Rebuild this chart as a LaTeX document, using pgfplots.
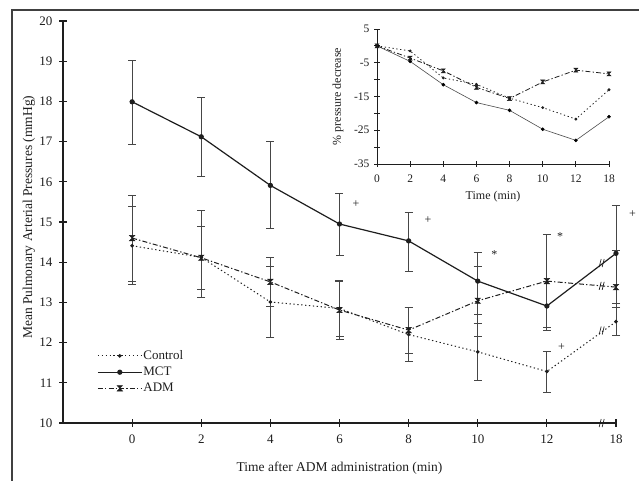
\documentclass[border=0pt]{standalone}
\usepackage{fontspec}
\setmainfont{Liberation Serif}
\usepackage{pgfplots}
\pgfplotsset{compat=1.18}

% hourglass mark used for the ADM series
\pgfdeclareplotmark{hglass}{%
  \pgfpathmoveto{\pgfqpoint{-\pgfplotmarksize}{\pgfplotmarksize}}%
  \pgfpathlineto{\pgfqpoint{\pgfplotmarksize}{\pgfplotmarksize}}%
  \pgfpathlineto{\pgfqpoint{-\pgfplotmarksize}{-\pgfplotmarksize}}%
  \pgfpathlineto{\pgfqpoint{\pgfplotmarksize}{-\pgfplotmarksize}}%
  \pgfpathclose
  \pgfusepathqfillstroke}

\definecolor{ink}{RGB}{30,30,30}
\definecolor{errc}{RGB}{70,70,70}

\pgfplotsset{
  ctrl/.style={ink, line width=1pt, dash pattern=on 1.3pt off 2.6pt,
    mark=*, mark size=1.3pt, mark options={solid}},
  mct/.style={ink, line width=1.2pt, mark=*, mark size=2pt},
  adm/.style={ink, line width=1pt, dash pattern=on 5pt off 2.2pt on 1.3pt off 2.2pt,
    mark=hglass, mark size=2.7pt, mark options={solid, line width=0.5pt}},
  ebar/.style={error bars/.cd, y dir=both, y explicit,
    error bar style={errc, line width=0.9pt, solid},
    error mark options={rotate=90, mark size=4pt, errc, line width=0.9pt, solid}},
}

\begin{document}
\begin{tikzpicture}
\begin{axis}[
    name=main, at={(63pt,58pt)}, anchor=south west,
    scale only axis, width=553pt, height=402pt,
    xmin=-1, xmax=7, ymin=10, ymax=20,
    axis x line*=bottom, axis y line*=left,
    axis line style={line width=1.1pt, ink},
    xtick={0,...,7}, xticklabels={0,2,4,6,8,10,12,18},
    ytick={10,...,20}, yticklabels={10,11,12,13,14,15,16,17,18,19,20},
    tick align=center, major tick length=8pt,
    tick style={line width=1.1pt, ink},
    tick label style={font=\fontsize{13}{15}\selectfont, ink},
    xticklabel style={yshift=-4pt},
    yticklabel style={xshift=-3pt},
    xlabel={Time after ADM administration (min)},
    ylabel={Mean Pulmonary Arterial Pressures (mmHg)},
    label style={font=\fontsize{13.5}{16}\selectfont, ink},
    xlabel style={at={(axis description cs:0.5,-0.112)}, anchor=center},
    ylabel style={at={(axis description cs:-0.0615,0.512)}, anchor=center},
    clip=false,
    legend style={at={(axis description cs:0.0615,0.183)}, anchor=north west,
      draw=none, fill=none, inner sep=0pt, row sep=4pt,
      font=\fontsize{13}{15}\selectfont, text=ink,
      nodes={inner sep=1pt}},
    legend cell align=left,
    legend image code/.code={\draw[mark repeat=2,mark phase=2,#1]
      plot coordinates {(0pt,0pt) (22pt,0pt) (44pt,0pt)};},
]
\addplot[ctrl, ebar] coordinates {
  (0,14.41) += (0,0.97) -= (0,0.97)
  (1,14.12) += (0,0.76) -= (0,0.79)
  (2,13.01) += (0,0.88) -= (0,0.89)
  (3,12.85) += (0,0.70) -= (0,0.70)
  (4,12.20) += (0,0.68) -= (0,0.68)
  (5,11.77) += (0,0.71) -= (0,0.71)
  (6,11.28) += (0,0.51) -= (0,0.51)
  (7,12.52) += (0,0.36) -= (0,0.35)
};
\addlegendentry{Control}
\addplot[mct, ebar] coordinates {
  (0,17.99) += (0,1.04) -= (0,1.06)
  (1,17.12) += (0,0.97) -= (0,0.98)
  (2,15.91) += (0,1.09) -= (0,1.08)
  (3,14.95) += (0,0.76) -= (0,0.79)
  (4,14.53) += (0,0.71) -= (0,0.75)
  (5,13.53) += (0,0.72) -= (0,0.84)
  (6,12.91) += (0,0.62) -= (0,0.62)
  (7,14.22) += (0,1.18) -= (0,1.24)
};
\addlegendentry{MCT}
\addplot[adm, ebar] coordinates {
  (0,14.60) += (0,1.07) -= (0,1.07)
  (1,14.11) += (0,1.17) -= (0,0.98)
  (2,13.51) += (0,0.61) -= (0,0.61)
  (3,12.81) += (0,0.72) -= (0,0.73)
  (4,12.31) += (0,0.57) -= (0,0.58)
  (5,13.04) += (0,0.85) -= (0,0.89)
  (6,13.53) += (0,1.15) -= (0,1.16)
  (7,13.38) += (0,0.92) -= (0,0.50)
};
\addlegendentry{ADM}
% significance marks
\node[font=\fontsize{12}{14}\selectfont, ink] at (axis cs:3.24,15.45) {+};
\node[font=\fontsize{12}{14}\selectfont, ink] at (axis cs:4.28,15.05) {+};
\node[font=\fontsize{12}{14}\selectfont, ink] at (axis cs:7.24,15.20) {+};
\node[font=\fontsize{12}{14}\selectfont, ink] at (axis cs:6.21,11.89) {+};
\node[font=\fontsize{12}{14}\selectfont, ink] at (axis cs:5.24,14.18) {*};
\node[font=\fontsize{12}{14}\selectfont, ink] at (axis cs:6.19,14.63) {*};
% axis and line breaks before 18
\pgfplotsinvokeforeach{10,13.98,13.41,12.30}{
  \draw[ink, line width=0.7pt] ([xshift=-3pt,yshift=-4pt]axis cs:6.80,#1) -- ([xshift=-1pt,yshift=4pt]axis cs:6.80,#1);
  \draw[ink, line width=0.7pt] ([xshift=0pt,yshift=-4pt]axis cs:6.80,#1) -- ([xshift=2pt,yshift=4pt]axis cs:6.80,#1);
}
\end{axis}

\begin{axis}[
    name=inset, at={(377pt,317pt)}, anchor=south west,
    scale only axis, width=232pt, height=135pt,
    xmin=0, xmax=7, ymin=-35, ymax=5,
    axis x line*=bottom, axis y line*=left,
    axis line style={line width=0.9pt, ink},
    xtick={0,...,7}, xticklabels={0,2,4,6,8,10,12,18},
    ytick={-35,-25,-15,-5,5}, yticklabels={-35,-25,-15,-5,5},
    minor ytick={-30,-20,-10,0},
    tick align=center, major tick length=6pt, minor tick length=6pt,
    tick style={line width=0.9pt, ink},
    tick label style={font=\fontsize{11.5}{13}\selectfont, ink},
    xticklabel style={yshift=-4pt},
    yticklabel style={xshift=-1pt},
    xlabel={Time (min)},
    ylabel={\% pressure decrease},
    label style={font=\fontsize{12}{14}\selectfont, ink},
    xlabel style={at={(axis description cs:0.5,-0.245)}, anchor=center},
    ylabel style={at={(axis description cs:-0.168,0.5)}, anchor=center},
    clip=false,
]
\addplot[ctrl, line width=0.8pt, mark size=1pt] coordinates {
  (0,0) (1,-1.5) (2,-9.5) (3,-11.4) (4,-15.5) (5,-18.3) (6,-21.7) (7,-13.0)
};
\addplot[mct, line width=0.6pt, black!70, mark size=1.5pt, mark options={black}] coordinates {
  (0,0) (1,-4.6) (2,-11.5) (3,-16.8) (4,-19.1) (5,-24.7) (6,-28.0) (7,-21.0)
};
\addplot[adm, line width=0.8pt, mark size=2pt] coordinates {
  (0,0) (1,-3.6) (2,-7.4) (3,-12.3) (4,-15.6) (5,-10.7) (6,-7.2) (7,-8.3)
};
\end{axis}

\draw[line width=1.3pt, black!75] (12pt,0pt) -- (12pt,471pt) -- (639pt,471pt);
\pgfresetboundingbox
\useasboundingbox (0,0) rectangle (639pt,481pt);
\end{tikzpicture}
\end{document}
